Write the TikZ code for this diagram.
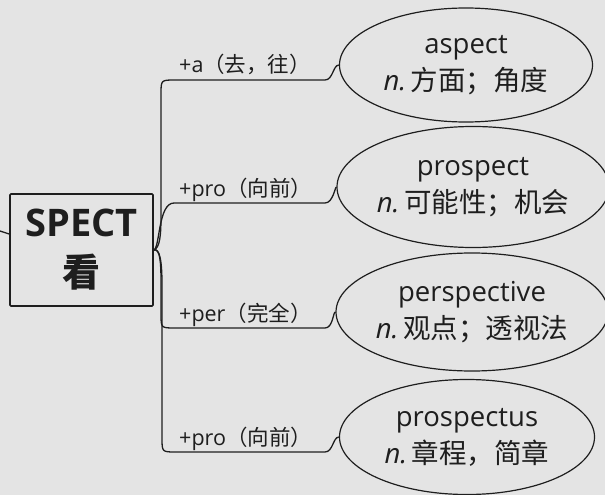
\documentclass[tikz,border=0pt]{standalone}
\usepackage{fontspec}
\setmainfont{Open Sans}
\newfontfamily\cjk{Noto Sans CJK SC}
\usetikzlibrary{shapes.geometric,positioning}
\definecolor{mBack}{HTML}{E4E4E4}
\definecolor{mInk}{HTML}{1E1E1E}

\begin{document}
\begin{tikzpicture}[x=1pt,y=-1pt,
  rootbox/.style={draw=mInk,line width=1.6pt,rounded corners=1pt,minimum width=143pt,minimum height=112pt,align=center,font=\fontsize{38}{50}\selectfont\bfseries,text=mInk},
  word/.style={ellipse,draw=mInk,fill=mBack,line width=1.2pt,inner sep=0pt,align=center,font=\fontsize{27.5}{37}\selectfont,text=mInk},
  affixlabel/.style={anchor=base west,inner sep=0pt,font=\fontsize{21.5}{24}\selectfont,text=mInk},
  branch/.style={draw=mInk,line width=1.3pt}
]
\fill[mBack] (0,0) rectangle (605,495);
\useasboundingbox (0,0) rectangle (605,495);

\node[rootbox] (spect) at (81.5,250) {SPECT\\{\cjk\bfseries 看}};
\node[word,minimum width=253pt,minimum height=114pt] (aspect) at (466,65) {aspect\\{\itshape n.}\,{\cjk 方面；角度}};
\node[word,minimum width=261pt,minimum height=121pt] (prospect) at (473,187) {prospect\\{\itshape n.}\,{\cjk 可能性；机会}};
\node[word,minimum width=264pt,minimum height=118pt] (perspective) at (472,312) {perspective\\{\itshape n.}\,{\cjk 观点；透视法}};
\node[word,minimum width=255pt,minimum height=115pt] (prospectus) at (467,437) {prospectus\\{\itshape n.}\,{\cjk 章程，简章}};

\node[affixlabel] (pa) at (179,73) {+a{\cjk （去，往）}};
\node[affixlabel] (pb) at (179,196) {+pro{\cjk （向前）}};
\node[affixlabel] (pc) at (179,321) {+per{\cjk （完全）}};
\node[affixlabel] (pd) at (179,445) {+pro{\cjk （向前）}};

% stub on the left
\coordinate (stub) at (0,231);
\draw[branch] (stub) -- ([yshift=16pt]spect.west);

% branches
\draw[branch] (spect.east) .. controls (160,248) and (161,235) .. (161,215) -- (161,94)
  .. controls (161,80) .. (175,80) -- (325,80) .. controls (333,80) and (333,65) .. (aspect.west);
\draw[branch] (spect.east) .. controls (160,248) and (158,203) .. (174,203) -- (325,203)
  .. controls (333,203) and (335,187) .. (prospect.west);
\draw[branch] (spect.east) .. controls (160,248) and (161,262) .. (161,282) -- (161,314)
  .. controls (161,328) .. (175,328) -- (325,328) .. controls (333,328) and (333,312) .. (perspective.west);
\draw[branch] (spect.east) .. controls (160,248) and (162,262) .. (162,285) -- (162,438)
  .. controls (162,452) .. (176,452) -- (325,452) .. controls (333,452) and (333,437) .. (prospectus.west);
\end{tikzpicture}
\end{document}
